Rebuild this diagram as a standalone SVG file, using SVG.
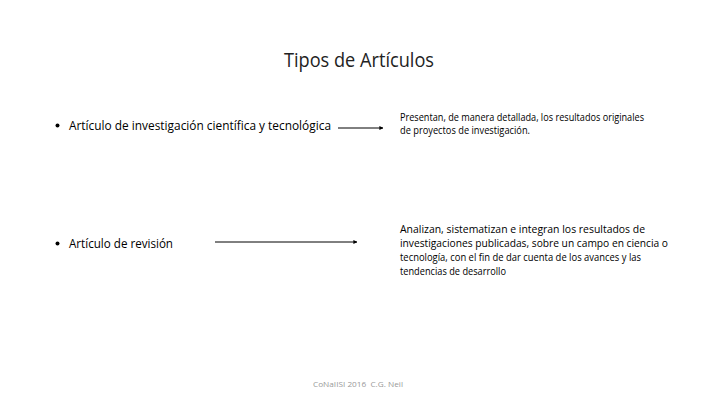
<svg xmlns="http://www.w3.org/2000/svg" width="720" height="405" viewBox="0 0 720 405">
<style>
text{font-family:"Open Sans","Liberation Sans",sans-serif;fill:#000}
.t{font-size:20px;fill:#222}
.b{font-size:13.5px}
.d{font-size:10px}
.f{font-size:8px;fill:#999;white-space:pre}
.c line{stroke:#000;stroke-width:1}
</style>
<defs>
<marker id="ah" viewBox="0 0 10 10" refX="9" refY="5" markerWidth="4" markerHeight="4" orient="auto"><path d="M0,0 L10,5 L0,10 z" fill="#000"/></marker>
</defs>
<rect width="720" height="405" fill="#fff"/>
<g id="title"><text class="t" x="359" y="67" text-anchor="middle" textLength="150" lengthAdjust="spacingAndGlyphs">Tipos de Artículos</text></g>
<g id="item1">
<circle cx="57.5" cy="125.5" r="2" fill="#000"/>
<text class="b" x="69" y="130" textLength="262" lengthAdjust="spacingAndGlyphs">Artículo de investigación científica y tecnológica</text>
</g>
<g id="desc1">
<text class="d" x="400" y="121" textLength="244" lengthAdjust="spacingAndGlyphs">Presentan, de manera detallada, los resultados originales</text>
<text class="d" x="400" y="134" textLength="130" lengthAdjust="spacingAndGlyphs">de proyectos de investigación.</text>
</g>
<g id="item2">
<circle cx="57.5" cy="243.5" r="2" fill="#000"/>
<text class="b" x="69" y="248" textLength="104" lengthAdjust="spacingAndGlyphs">Artículo de revisión</text>
</g>
<g id="desc2">
<text class="d" x="400" y="233" textLength="245" lengthAdjust="spacingAndGlyphs">Analizan, sistematizan e integran los resultados de</text>
<text class="d" x="400" y="247" textLength="268" lengthAdjust="spacingAndGlyphs">investigaciones publicadas, sobre un campo en ciencia o</text>
<text class="d" x="400" y="261" textLength="241" lengthAdjust="spacingAndGlyphs">tecnología, con el fin de dar cuenta de los avances y las</text>
<text class="d" x="400" y="275" textLength="106" lengthAdjust="spacingAndGlyphs">tendencias de desarrollo</text>
</g>
<g class="c" id="connectors">
<line x1="338" y1="128" x2="383" y2="128" marker-end="url(#ah)"/>
<line x1="215" y1="242" x2="357" y2="242" marker-end="url(#ah)"/>
</g>
<g id="footer"><text class="f" x="313" y="387" textLength="90" lengthAdjust="spacingAndGlyphs">CoNaIISI 2016  C.G. Neil</text></g>
</svg>
